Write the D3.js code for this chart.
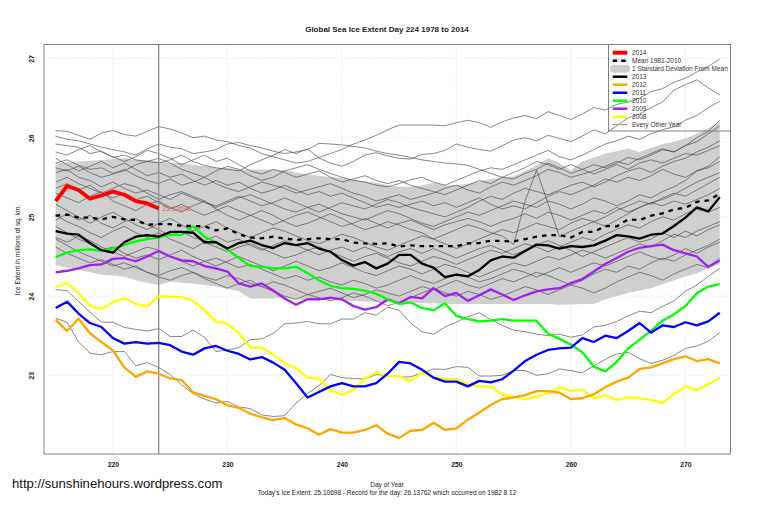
<!DOCTYPE html>
<html>
<head>
<meta charset="utf-8">
<script src="https://cdn.jsdelivr.net/npm/d3@7"></script>
<style>
  html, body { margin: 0; padding: 0; background: #fff; }
  text { font-family: "Liberation Sans", Arial, sans-serif; fill: #222; }
</style>
</head>
<body>
<div id="chart"></div>
<script>
const firstDay = 215;
const xTicks = [220, 230, 240, 250, 260, 270];
const yTicks = [23, 24, 25, 26, 27];

const ice2014 = [25.20,25.39,25.34,25.23,25.27,25.32,25.28,25.20,25.17,25.10698];

const mean = [25.015,25.03,24.99,24.99,24.97,25.0,24.97,24.96,24.90,24.91,
  24.91,24.885,24.885,24.88,24.83,24.855,24.78,24.74,24.73,24.75,
  24.725,24.71,24.72,24.73,24.72,24.72,24.675,24.665,24.66,24.665,
  24.625,24.64,24.63,24.63,24.63,24.63,24.665,24.67,24.70,24.695,
  24.69,24.72,24.75,24.77,24.77,24.74,24.81,24.81,24.885,24.88,
  24.97,24.96,25.015,25.045,25.095,25.115,25.19,25.21,25.29];

const bandUpper = [25.68,25.69,25.70,25.71,25.72,25.73,25.74,25.72,25.72,25.70,
  25.68,25.68,25.66,25.64,25.62,25.62,25.60,25.60,25.60,25.60,
  25.59,25.56,25.54,25.52,25.50,25.49,25.47,25.45,25.43,25.40,
  25.38,25.38,25.40,25.43,25.40,25.40,25.42,25.45,25.48,25.50,
  25.51,25.58,25.65,25.74,25.68,25.59,25.70,25.75,25.80,25.83,
  25.865,25.82,25.87,25.92,25.95,25.99,26.05,26.12,26.20];

const bandLower = [24.39,24.36,24.33,24.30,24.27,24.26,24.245,24.20,24.17,24.14,
  24.18,24.17,24.16,24.14,24.12,24.09,24.06,23.97,23.97,23.97,
  23.98,23.96,23.95,23.95,23.95,23.94,23.94,23.93,23.93,23.92,
  23.92,23.91,23.91,23.91,23.90,23.90,23.90,23.90,23.90,23.90,
  23.90,23.90,23.90,23.90,23.89,23.895,23.90,23.90,23.96,24.0,
  24.04,24.07,24.10,24.15,24.20,24.245,24.29,24.35,24.41];

const ice2013 = [24.82,24.79,24.775,24.67,24.58,24.55,24.68,24.75,24.77,24.75,
  24.81,24.81,24.80,24.68,24.68,24.60,24.67,24.70,24.645,24.607,
  24.67,24.645,24.67,24.60,24.56,24.455,24.385,24.43,24.35,24.41,
  24.52,24.52,24.41,24.36,24.24,24.27,24.25,24.33,24.45,24.50,
  24.485,24.57,24.65,24.64,24.60,24.63,24.62,24.64,24.70,24.77,
  24.755,24.725,24.775,24.79,24.885,24.99,25.12,25.07,25.25];

const ice2012 = [23.70,23.56,23.715,23.53,23.42,23.315,23.10,22.98,23.05,23.02,
  22.96,22.94,22.785,22.74,22.70,22.62,22.59,22.515,22.47,22.435,
  22.46,22.38,22.33,22.25,22.32,22.275,22.275,22.31,22.37,22.26,
  22.21,22.30,22.31,22.40,22.31,22.33,22.44,22.53,22.625,22.70,
  22.72,22.75,22.80,22.80,22.78,22.70,22.71,22.76,22.85,22.92,
  22.97,23.08,23.10,23.15,23.205,23.24,23.18,23.205,23.15];

const ice2011 = [23.85,23.93,23.78,23.66,23.61,23.47,23.40,23.42,23.40,23.41,
  23.38,23.30,23.26,23.34,23.37,23.31,23.27,23.20,23.23,23.16,
  23.07,22.90,22.72,22.79,22.86,22.90,22.86,22.86,22.90,23.02,
  23.17,23.15,23.07,22.97,22.92,22.92,22.86,22.93,22.91,22.95,
  23.06,23.18,23.26,23.32,23.34,23.35,23.47,23.42,23.50,23.47,
  23.56,23.66,23.54,23.63,23.61,23.67,23.63,23.68,23.79];

const ice2010 = [24.49,24.55,24.58,24.59,24.57,24.60,24.645,24.69,24.72,24.74,
  24.78,24.77,24.88,24.75,24.68,24.59,24.48,24.38,24.37,24.35,
  24.35,24.37,24.29,24.20,24.13,24.10,24.09,24.07,24.03,23.96,
  23.90,23.92,23.85,23.82,23.91,23.75,23.71,23.68,23.69,23.71,
  23.69,23.69,23.69,23.525,23.46,23.39,23.29,23.11,23.05,23.17,
  23.34,23.45,23.56,23.69,23.77,23.875,24.035,24.12,24.15];

const ice2009 = [24.30,24.32,24.35,24.39,24.40,24.47,24.48,24.44,24.50,24.57,
  24.50,24.45,24.44,24.38,24.35,24.31,24.16,24.12,24.16,24.07,
  23.97,23.89,23.96,23.96,23.98,23.96,23.875,23.83,23.86,23.96,
  23.91,23.99,23.97,24.10,24.0,24.04,23.94,24.01,24.085,24.02,
  23.95,24.01,24.06,24.085,24.10,24.165,24.215,24.31,24.405,24.48,
  24.56,24.61,24.63,24.65,24.58,24.54,24.50,24.37,24.45];

const ice2008 = [24.11,24.165,24.04,23.875,23.84,23.92,23.975,23.90,23.87,24.0,
  23.99,23.99,23.94,23.82,23.68,23.65,23.53,23.35,23.35,23.26,
  23.15,23.09,22.97,22.96,22.81,22.755,22.81,22.96,23.04,22.99,
  22.99,22.93,23.03,22.97,22.95,22.95,22.89,22.86,22.86,22.755,
  22.73,22.70,22.73,22.77,22.85,22.80,22.82,22.71,22.75,22.69,
  22.72,22.71,22.69,22.65,22.76,22.86,22.81,22.89,22.97];

// every other year, thin grey lines
const otherYears = [
  [26.09,26.08,26.03,25.98,26.06,26.09,26.04,26.02,26.08,26.14,
   26.11,26.06,26.00,26.02,25.97,25.95,25.90,25.87,25.80,25.76,
   25.72,25.68,25.70,25.75,25.80,25.85,25.92,25.97,26.03,26.10,
   26.16,26.16,26.16,26.16,26.15,26.19,26.22,26.19,26.13,26.20,
   26.25,26.28,26.24,26.33,26.28,26.23,26.30,26.38,26.35,26.42,
   26.45,26.50,26.58,26.62,26.70,26.75,26.83,26.90,26.99],
  [26.02,25.98,25.96,25.92,25.88,25.85,25.82,25.78,25.86,25.92,
   25.88,25.86,25.80,25.82,25.85,25.92,25.94,25.90,25.87,25.83,
   25.80,25.82,25.85,25.93,25.92,25.91,25.89,25.87,25.83,25.80,
   25.78,25.75,25.72,25.70,25.68,25.67,25.65,25.60,25.55,25.50,
   25.48,25.55,25.60,25.68,25.62,25.55,25.60,25.66,25.62,25.68,
   25.75,25.72,25.78,25.85,25.82,25.90,25.95,26.05,26.15],
  [25.92,25.90,25.88,25.80,25.83,25.75,25.78,25.72,25.70,25.68,
   25.72,25.78,25.70,25.65,25.62,25.60,25.58,25.66,25.72,25.78,
   25.85,25.80,25.86,25.74,25.68,25.64,25.70,25.78,25.81,25.77,
   25.74,25.73,25.79,25.80,25.84,25.92,25.88,25.85,25.83,25.90,
   25.97,26.00,25.96,26.03,25.99,25.95,26.02,26.10,26.05,26.15,
   26.25,26.30,26.38,26.45,26.60,26.67,26.73,26.63,26.54],
  [25.68,25.72,25.65,25.60,25.62,25.55,25.58,25.66,25.70,25.74,
   25.68,25.60,25.55,25.50,25.58,25.64,25.60,25.52,25.46,25.50,
   25.58,25.62,25.66,25.60,25.55,25.50,25.46,25.44,25.40,25.38,
   25.42,25.47,25.50,25.44,25.40,25.46,25.52,25.58,25.62,25.60,
   25.66,25.72,25.78,25.84,25.76,25.72,25.78,25.85,25.92,25.96,
   26.02,25.98,26.05,26.10,26.14,26.22,26.28,26.38,26.46],
  [25.62,25.58,25.64,25.56,25.50,25.54,25.60,25.52,25.46,25.42,
   25.48,25.40,25.44,25.50,25.42,25.36,25.32,25.38,25.44,25.40,
   25.36,25.30,25.34,25.38,25.42,25.36,25.30,25.26,25.20,25.24,
   25.28,25.22,25.26,25.30,25.36,25.40,25.34,25.30,25.38,25.44,
   25.40,25.46,25.52,25.60,25.56,25.50,25.54,25.58,25.64,25.70,
   25.66,25.74,25.80,25.86,25.82,25.90,26.00,26.08,26.22],
  [25.56,25.60,25.50,25.46,25.38,25.44,25.36,25.30,25.34,25.28,
   25.22,25.30,25.24,25.18,25.14,25.20,25.26,25.20,25.14,25.18,
   25.24,25.18,25.12,25.06,25.12,25.18,25.14,25.10,25.16,25.22,
   25.18,25.12,25.08,25.04,25.00,25.06,25.12,25.20,25.26,25.22,
   25.30,25.36,25.32,25.28,25.34,25.40,25.44,25.38,25.44,25.52,
   25.58,25.62,25.56,25.64,25.70,25.74,25.82,25.88,25.96],
  [25.44,25.50,25.42,25.36,25.30,25.36,25.42,25.38,25.30,25.22,
   25.28,25.32,25.26,25.20,25.12,25.18,25.24,25.28,25.22,25.16,
   25.10,25.06,25.12,25.16,25.10,25.04,25.00,24.96,25.02,25.08,
   25.04,24.98,24.92,24.88,24.94,25.00,25.06,25.02,25.08,25.14,
   25.20,25.16,25.12,25.20,25.16,25.10,25.16,25.24,25.20,25.14,
   25.20,25.28,25.24,25.32,25.38,25.46,25.58,25.62,25.70],
  [25.30,25.24,25.18,25.26,25.32,25.20,25.14,25.08,25.16,25.20,
   25.12,25.06,25.14,25.20,25.10,25.02,24.96,25.02,25.08,25.02,
   24.94,24.88,24.92,24.98,25.04,24.98,24.90,24.84,24.88,24.94,
   24.90,24.84,24.80,24.72,24.78,24.84,24.90,24.86,24.80,24.76,
   24.65,25.20,25.59,25.17,24.75,24.82,24.88,24.94,24.88,24.96,
   25.04,25.12,25.18,25.22,25.28,25.36,25.44,25.50,25.56],
  [25.16,25.08,25.00,24.92,25.00,25.06,24.98,24.90,24.84,24.92,
   24.98,24.90,24.82,24.88,24.94,24.86,24.80,24.74,24.80,24.86,
   24.82,24.76,24.70,24.66,24.72,24.78,24.74,24.68,24.62,24.58,
   24.64,24.70,24.76,24.72,24.66,24.60,24.66,24.72,24.78,24.84,
   24.80,24.86,24.92,24.88,24.84,24.92,24.98,24.94,25.00,25.08,
   25.14,25.20,25.16,25.24,25.30,25.26,25.34,25.42,25.50],
  [25.02,24.94,24.88,24.80,24.74,24.82,24.88,24.80,24.74,24.80,
   24.72,24.66,24.60,24.68,24.62,24.56,24.62,24.66,24.60,24.54,
   24.48,24.52,24.58,24.62,24.56,24.50,24.44,24.50,24.54,24.48,
   24.42,24.38,24.44,24.50,24.46,24.40,24.46,24.52,24.58,24.54,
   24.60,24.66,24.62,24.56,24.62,24.68,24.74,24.70,24.78,24.84,
   24.90,24.86,24.94,25.00,24.96,25.04,25.10,25.06,25.12],
  [24.88,24.80,24.72,24.66,24.58,24.62,24.54,24.48,24.52,24.46,
   24.52,24.58,24.50,24.44,24.38,24.44,24.50,24.44,24.38,24.32,
   24.38,24.44,24.38,24.32,24.36,24.42,24.36,24.30,24.26,24.32,
   24.38,24.34,24.28,24.34,24.40,24.36,24.30,24.24,24.30,24.36,
   24.42,24.38,24.44,24.50,24.46,24.52,24.58,24.54,24.48,24.54,
   24.60,24.66,24.62,24.70,24.78,24.74,24.82,24.88,24.94],
  [24.72,24.64,24.56,24.50,24.44,24.38,24.42,24.36,24.30,24.26,
   24.32,24.36,24.30,24.24,24.20,24.26,24.22,24.16,24.12,24.18,
   24.14,24.08,24.02,24.06,24.10,24.04,23.98,24.02,24.08,24.04,
   24.00,24.06,24.12,24.08,24.14,24.20,24.14,24.10,24.16,24.22,
   24.18,24.24,24.30,24.26,24.20,24.14,24.20,24.28,24.34,24.30,
   24.38,24.34,24.42,24.48,24.44,24.52,24.58,24.64,24.72],
  [24.62,24.54,24.48,24.42,24.46,24.40,24.34,24.38,24.30,24.24,
   24.20,24.26,24.30,24.22,24.16,24.10,24.16,24.20,24.12,24.06,
   24.00,23.96,24.02,23.98,23.94,23.98,24.04,24.00,23.94,23.88,
   23.92,23.98,24.04,24.10,24.04,24.00,24.06,24.02,23.96,24.00,
   24.06,24.12,24.08,24.02,24.08,24.14,24.10,24.04,24.10,24.18,
   24.24,24.30,24.26,24.20,24.28,24.34,24.40,24.36,24.48],
  [24.08,24.07,23.93,23.80,23.67,23.67,23.605,23.58,23.56,23.59,
   23.49,23.49,23.57,23.48,23.30,23.32,23.35,23.45,23.46,23.53,
   23.65,23.66,23.68,23.65,23.65,23.71,23.71,23.79,23.76,23.86,
   23.82,23.66,23.55,23.52,23.61,23.67,23.74,23.79,23.70,23.63,
   23.57,23.55,23.52,23.50,23.52,23.48,23.51,23.61,23.63,23.68,
   23.75,23.81,23.79,23.87,23.94,24.06,24.14,24.25,24.35],
  [23.72,23.67,23.42,23.28,23.26,23.30,23.30,23.12,23.16,23.10,
   23.01,22.88,22.77,22.70,22.65,22.67,22.60,22.58,22.50,22.48,
   22.49,22.65,22.77,22.87,23.01,22.97,22.96,22.95,23.01,22.995,
   22.98,22.98,23.03,23.08,23.075,23.11,23.10,22.99,22.99,23.0,
   23.06,23.06,23.0,23.02,23.08,23.06,23.03,23.12,23.20,23.27,
   23.29,23.21,23.15,23.19,23.25,23.34,23.37,23.43,23.54],
  [25.82,25.78,25.85,25.90,25.82,25.76,25.70,25.76,25.84,25.80,
   25.74,25.66,25.72,25.78,25.70,25.74,25.66,25.58,25.54,25.60,
   25.56,25.50,25.54,25.58,25.50,25.44,25.48,25.52,25.46,25.42,
   25.46,25.40,25.36,25.32,25.28,25.34,25.40,25.46,25.42,25.50,
   25.56,25.62,25.70,25.66,25.60,25.66,25.60,25.54,25.60,25.66,
   25.60,25.68,25.72,25.68,25.74,25.80,25.78,25.84,25.90],
  [25.74,25.66,25.58,25.64,25.70,25.62,25.68,25.60,25.52,25.56,
   25.50,25.54,25.46,25.40,25.46,25.40,25.44,25.36,25.30,25.34,
   25.40,25.34,25.28,25.32,25.26,25.30,25.24,25.18,25.12,25.16,
   25.12,25.16,25.20,25.14,25.18,25.12,25.18,25.24,25.16,25.10,
   25.14,25.10,25.18,25.26,25.32,25.28,25.34,25.40,25.48,25.44,
   25.50,25.46,25.52,25.60,25.54,25.50,25.58,25.64,25.76],
  [25.36,25.42,25.34,25.40,25.30,25.24,25.30,25.22,25.26,25.18,
   25.10,25.16,25.08,25.02,25.08,25.14,25.08,25.02,24.96,24.90,
   24.96,25.02,25.06,25.00,24.94,24.88,24.92,24.98,24.92,24.86,
   24.92,24.96,24.90,24.84,24.90,24.94,24.98,24.94,24.88,24.94,
   24.98,25.04,24.98,25.06,25.02,24.96,25.02,25.08,25.04,25.12,
   25.06,25.12,25.18,25.14,25.20,25.16,25.22,25.28,25.36],
  [24.96,25.04,24.96,25.02,24.92,24.86,24.94,24.98,24.90,24.84,
   24.76,24.82,24.74,24.70,24.76,24.68,24.72,24.64,24.58,24.64,
   24.70,24.64,24.58,24.52,24.58,24.62,24.56,24.62,24.56,24.50,
   24.56,24.60,24.54,24.60,24.54,24.48,24.54,24.60,24.64,24.58,
   24.52,24.58,24.64,24.70,24.64,24.58,24.50,24.56,24.62,24.68,
   24.74,24.68,24.72,24.80,24.74,24.82,24.76,24.84,24.90],
  [24.74,24.68,24.76,24.70,24.62,24.56,24.50,24.56,24.62,24.58,
   24.50,24.44,24.38,24.44,24.48,24.42,24.36,24.40,24.34,24.28,
   24.22,24.26,24.20,24.24,24.18,24.14,24.20,24.16,24.10,24.14,
   24.20,24.26,24.20,24.16,24.22,24.28,24.24,24.18,24.22,24.28,
   24.34,24.30,24.24,24.30,24.36,24.30,24.36,24.42,24.38,24.44,
   24.50,24.56,24.50,24.46,24.52,24.60,24.54,24.62,24.68]
];

const legendLabels = ["2014", "Mean 1981-2010", "1 Standard Deviation From Mean", "2013", "2012", "2011", "2010", "2009", "2008", "Every Other Year"];
const legendColors = ["#ff0000", "#000000", "#cfcfcf", "#000000", "#ffa500", "#0000ff", "#00ff00", "#a020f0", "#ffff00", "#8a8a8a"];
const legendWidths = [4, 2.5, 8, 2.5, 2.5, 2.5, 2.5, 2.5, 2.5, 1];

const chartTitle = "Global Sea Ice Extent Day 224 1978 to 2014";
const subTitle = "Today's Ice Extent: 25.10698  - Record for the day: 26.13762 which occurred on 1982 8 12";

const width = 759, height = 506;
const plot = {left: 44, right: 730.5, top: 44.5, bottom: 454};

const svg = d3.select("#chart").append("svg")
    .attr("width", width)
    .attr("height", height)
    .style("display", "block");

const xScale = d3.scaleLinear().domain([220, 270]).range([112.9, 685.4]);
const yScale = d3.scaleLinear().domain([23, 27]).range([375.3, 58.5]);

const line = d3.line()
    .x(function(d, i){ return xScale(firstDay + i); })
    .y(function(d){ return yScale(d); });

// dotted grid
svg.append("g").selectAll("line").data(xTicks).enter().append("line")
    .attr("x1", d => xScale(d)).attr("x2", d => xScale(d))
    .attr("y1", plot.top).attr("y2", plot.bottom)
    .attr("stroke", "#dedede").attr("stroke-width", 0.7).attr("stroke-dasharray", "1.5,2");
svg.append("g").selectAll("line").data(yTicks).enter().append("line")
    .attr("x1", plot.left).attr("x2", plot.right)
    .attr("y1", d => yScale(d)).attr("y2", d => yScale(d))
    .attr("stroke", "#dedede").attr("stroke-width", 0.7).attr("stroke-dasharray", "1.5,2");

// standard deviation band
const area = d3.area()
    .x(function(d, i){ return xScale(firstDay + i); })
    .y0(function(d, i){ return yScale(bandLower[i]); })
    .y1(function(d){ return yScale(d); });
svg.append("path").datum(bandUpper).attr("d", area).attr("fill", "#cfcfcf");

svg.append("g").selectAll("path").data(otherYears).enter().append("path")
    .attr("d", line)
    .attr("fill", "none")
    .attr("stroke", "#454545")
    .attr("stroke-opacity", 0.85)
    .attr("stroke-width", 0.75);

// marker for today
svg.append("line")
    .attr("x1", xScale(224)).attr("x2", xScale(224))
    .attr("y1", plot.top).attr("y2", plot.bottom)
    .attr("stroke", "#8c8c8c").attr("stroke-width", 1.3);

function drawSeries(values, color, w, dash){
    svg.append("path").datum(values)
        .attr("d", line)
        .attr("fill", "none")
        .attr("stroke", color)
        .attr("stroke-width", w)
        .attr("stroke-linejoin", "round")
        .attr("stroke-dasharray", dash || null);
}
drawSeries(ice2008, "#ffff00", 2.3);
drawSeries(ice2009, "#a020f0", 2.3);
drawSeries(ice2010, "#00ff00", 2.3);
drawSeries(ice2011, "#0000ff", 2.3);
drawSeries(ice2012, "#ffa500", 2.3);
drawSeries(ice2013, "#000000", 2.3);
drawSeries(mean, "#000000", 2.3, "4.5,5");
drawSeries(ice2014, "#ff0000", 3.8);

svg.append("text")
    .attr("x", xScale(224) + 3.5)
    .attr("y", yScale(25.10698) + 2.5)
    .attr("font-size", 6.8)
    .style("fill", "#e85a5a")
    .text("25.10698");

// box and axes
svg.append("rect")
    .attr("x", plot.left).attr("y", plot.top)
    .attr("width", plot.right - plot.left).attr("height", plot.bottom - plot.top)
    .attr("fill", "none").attr("stroke", "#808080").attr("stroke-width", 1);

const xAxis = svg.append("g")
    .attr("transform", "translate(0," + plot.bottom + ")")
    .call(d3.axisBottom(xScale).tickValues(xTicks).tickSize(0).tickPadding(8).tickFormat(d3.format("d")));
const yAxis = svg.append("g")
    .attr("transform", "translate(" + plot.left + ",0)")
    .call(d3.axisLeft(yScale).tickValues(yTicks).tickSize(0).tickFormat(d3.format("d")));
xAxis.select(".domain").remove();
yAxis.select(".domain").remove();
xAxis.selectAll("text").attr("font-size", 6.8).attr("font-family", "Liberation Sans").attr("font-weight", "bold");
yAxis.selectAll("text")
    .attr("font-size", 6.8).attr("font-family", "Liberation Sans").attr("font-weight", "bold")
    .attr("text-anchor", "middle")
    .attr("x", 0).attr("y", 0).attr("dy", "0.32em")
    .attr("transform", "translate(-12,0) rotate(-90)");

// titles
svg.append("text").attr("x", 387).attr("y", 32).attr("text-anchor", "middle")
    .attr("font-size", 8).attr("font-weight", "bold").text(chartTitle);
svg.append("text").attr("x", 387).attr("y", 487).attr("text-anchor", "middle")
    .attr("font-size", 6.5).text("Day of Year");
svg.append("text").attr("x", 387).attr("y", 495).attr("text-anchor", "middle")
    .attr("font-size", 6.5).text(subTitle);
svg.append("text")
    .attr("transform", "translate(20,250) rotate(-90)")
    .attr("text-anchor", "middle")
    .attr("font-size", 6.6)
    .text("Ice Extent in millions of sq. km.");
svg.append("text").attr("x", 12).attr("y", 488)
    .attr("font-size", 13.1).style("fill", "#111").text("http://sunshinehours.wordpress.com");

// legend, no fill so the lines show through it
const legend = svg.append("g");
legend.append("rect")
    .attr("x", 608.5).attr("y", 44.5).attr("width", 122).attr("height", 86.5)
    .attr("fill", "none").attr("stroke", "#808080").attr("stroke-width", 1);
const rows = legend.selectAll("g").data(legendLabels).enter().append("g")
    .attr("transform", (d, i) => "translate(0," + (52.7 + i * 8) + ")");
rows.append("line")
    .attr("x1", (d, i) => i === 2 ? 614 : 612.7)
    .attr("x2", (d, i) => i === 2 ? 626 : 627.3)
    .attr("stroke", (d, i) => legendColors[i])
    .attr("stroke-width", (d, i) => legendWidths[i])
    .attr("stroke-linecap", (d, i) => i === 2 ? "round" : "butt")
    .attr("stroke-dasharray", (d, i) => i === 1 ? "4.5,4" : null);
rows.append("text")
    .attr("x", 632).attr("y", 2.5)
    .attr("font-size", 6.5)
    .style("fill", "#333")
    .text(d => d);
</script>
</body>
</html>
